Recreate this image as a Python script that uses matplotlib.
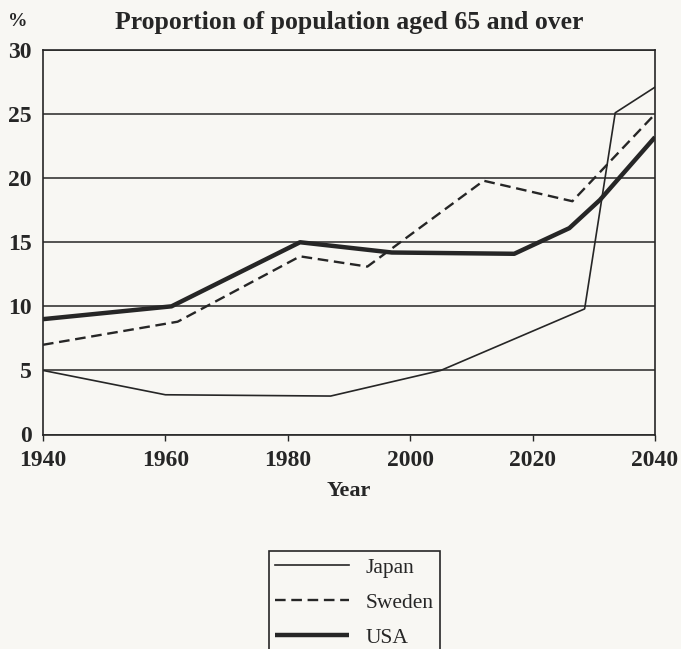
import matplotlib
matplotlib.use("Agg")
import matplotlib.pyplot as plt

# values
japan_years = [1940, 1960, 1987, 1996, 2005, 2028.5, 2033.5, 2040]
japan_vals = [5.0, 3.1, 3.0, 4.0, 5.0, 9.8, 25.1, 27.1]
sweden_years = [1940, 1962, 1982, 1993, 2012, 2026.5, 2040]
sweden_vals = [7.0, 8.8, 13.9, 13.1, 19.8, 18.2, 25.0]
usa_years = [1940, 1961, 1982, 1997, 2017, 2026, 2031, 2040]
usa_vals = [9.0, 10.0, 15.0, 14.2, 14.1, 16.1, 18.3, 23.2]
x_ticks = [1940, 1960, 1980, 2000, 2020, 2040]
y_ticks = [0, 5, 10, 15, 20, 25, 30]

bg = '#f8f7f3'
ink = '#262626'
plt.rcParams['font.family'] = 'Liberation Serif'

fig = plt.figure(figsize=(6.81, 6.49), dpi=100, facecolor=bg)
ax = fig.add_axes([43/681, 1-434.5/649, 612/681, 384.5/649])
ax.set_facecolor(bg)

ax.plot(japan_years, japan_vals, color=ink, lw=1.2, label='Japan')
ax.plot(sweden_years, sweden_vals, color=ink, lw=1.7, linestyle=(0, (4.5, 2.4)), label='Sweden')
ax.plot(usa_years, usa_vals, color=ink, lw=3.2, label='USA', solid_capstyle='butt')

ax.set_xlim(1940, 2040)
ax.set_ylim(0, 30)
ax.set_xticks(x_ticks)
ax.set_yticks(y_ticks)
ax.yaxis.grid(True, color=ink, lw=1.1)
ax.set_axisbelow(True)
for s in ax.spines.values():
    s.set_color(ink)
    s.set_linewidth(1.2)

ax.tick_params(axis='x', direction='out', length=4, width=1, color=ink, pad=7, labelsize=17)
ax.tick_params(axis='y', length=0, pad=8, labelsize=17)
for lab in ax.get_xticklabels() + ax.get_yticklabels():
    lab.set_fontweight('bold')
    lab.set_color(ink)

ax.set_xlabel('Year', fontsize=16, fontweight='bold', color=ink, labelpad=7)

fig.text(349/681, 1-23/649, 'Proportion of population aged 65 and over',
         ha='center', va='center', fontsize=18.5, fontweight='bold', color=ink)
fig.text(18/681, 1-22/649, '%', ha='center', va='center', fontsize=14,
         fontweight='bold', color=ink)

leg = fig.legend(loc='upper left', bbox_to_anchor=(269/681, 1-551/649),
                 borderaxespad=0, fontsize=15.5, handlelength=3.4,
                 handletextpad=0.8, labelspacing=0.7, borderpad=0.3,
                 fancybox=False, edgecolor=ink, facecolor=bg, framealpha=1)
leg.get_frame().set_linewidth(1.2)
for t in leg.get_texts():
    t.set_color(ink)

fig.savefig('out.png', dpi=100, facecolor=bg)
